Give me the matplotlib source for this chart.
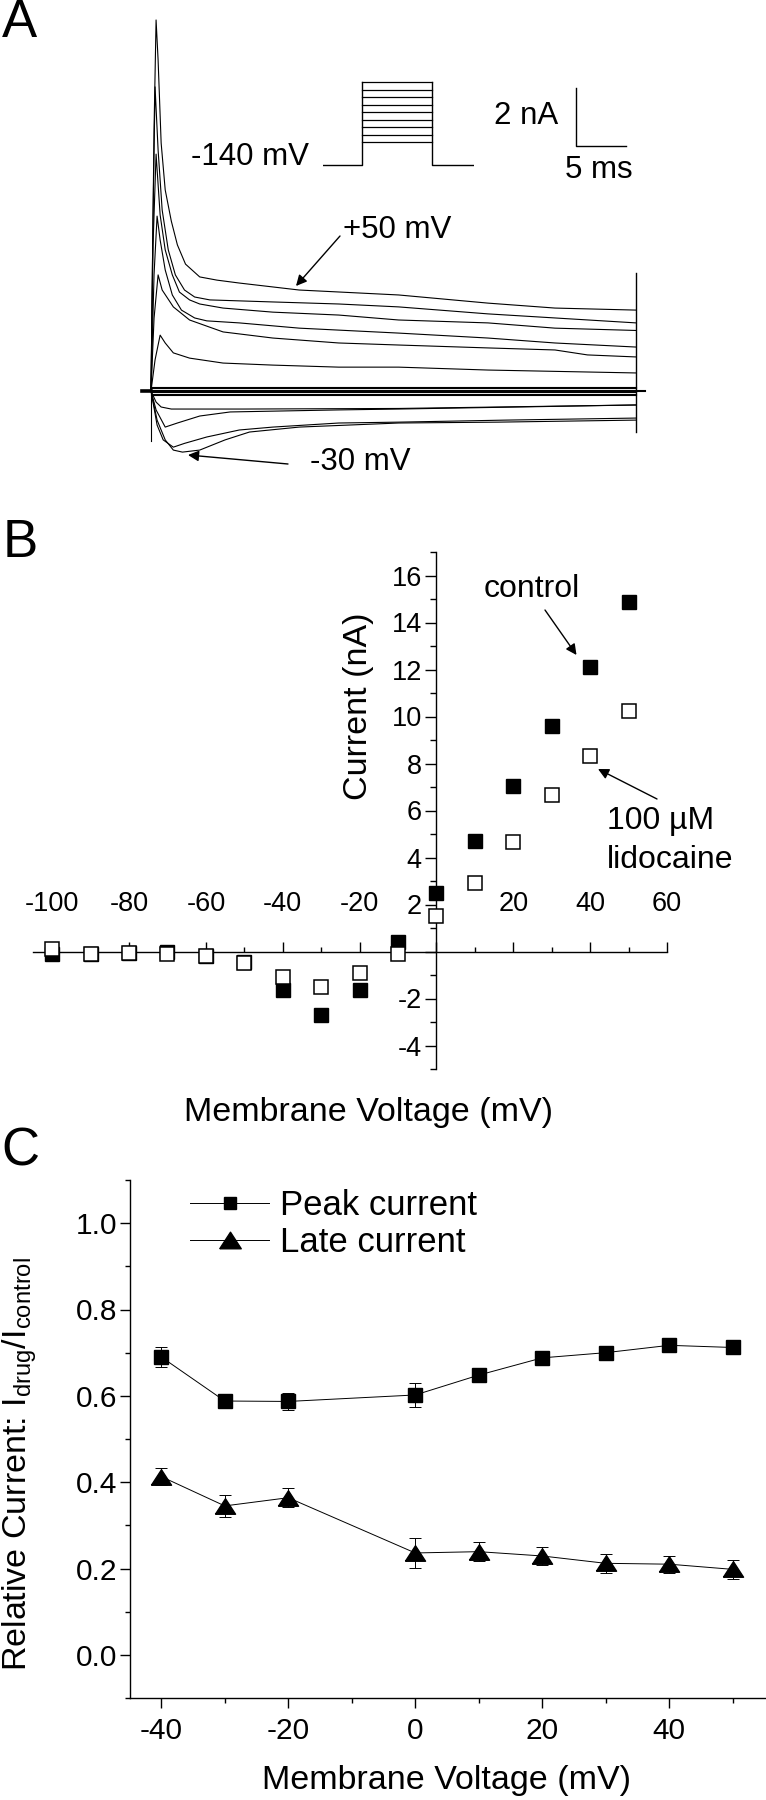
import matplotlib
matplotlib.use('Agg')
import matplotlib.pyplot as plt
from matplotlib.lines import Line2D
from matplotlib.patches import FancyArrowPatch

plt.rcParams['font.family'] = ['Liberation Sans', 'DejaVu Sans']
plt.rcParams['mathtext.default'] = 'regular'

W, H, DPI = 766, 1800, 100
fig = plt.figure(figsize=(W / DPI, H / DPI), dpi=DPI)


def box(x0, y0, x1, y1):
    return [x0 / W, 1 - y1 / H, (x1 - x0) / W, (y1 - y0) / H]


def fx(px):
    return px / W


def fy(py):
    return 1 - py / H


def fp(px, py):
    return (px, H - py)


# ---------------- Panel A data: current traces (time in ms, current in nA) ----------------
tr_p50_t = [0, 0.3, 0.5, 0.7, 1.0, 1.4, 2.0, 2.6, 3.4, 4.8, 6.5, 8.7, 14.6, 24.4, 33.2, 39.8, 47.8]
tr_p50_i = [0, 9.0, 12.75, 11.37, 8.52, 6.91, 5.84, 5.02, 4.36, 3.92, 3.81, 3.71, 3.47, 3.30, 3.02, 2.85, 2.78]
tr_p40_t = [0, 0.2, 0.4, 0.7, 1.1, 1.7, 2.4, 3.3, 4.3, 5.8, 12.0, 18.5, 24.4, 33.2, 39.8, 47.8]
tr_p40_i = [0, 6.0, 10.45, 8.28, 6.22, 4.85, 3.99, 3.47, 3.23, 3.13, 3.06, 2.99, 2.89, 2.65, 2.51, 2.34]
tr_p30_t = [0, 0.2, 0.5, 0.9, 1.4, 2.1, 2.8, 3.8, 4.8, 7.1, 12.0, 18.5, 24.4, 33.2, 39.8, 47.8]
tr_p30_i = [0, 5.0, 8.14, 6.05, 4.85, 3.99, 3.40, 3.13, 2.99, 2.85, 2.71, 2.61, 2.44, 2.34, 2.16, 2.08]
tr_p20_t = [0, 0.3, 0.6, 0.9, 1.4, 2.1, 3.0, 4.3, 5.5, 8.7, 14.6, 24.4, 33.2, 39.8, 47.8]
tr_p20_i = [0, 4.0, 6.01, 5.19, 4.16, 3.30, 2.78, 2.51, 2.41, 2.34, 2.16, 1.99, 1.82, 1.65, 1.51]
tr_p10_t = [0, 0.3, 0.7, 1.1, 2.2, 3.8, 7.1, 12.0, 18.5, 24.4, 33.2, 39.8, 43.0, 47.8]
tr_p10_i = [0, 2.5, 3.99, 3.47, 2.89, 2.44, 2.03, 1.82, 1.65, 1.58, 1.48, 1.41, 1.24, 1.17]
tr_0_t = [0, 0.4, 0.9, 1.4, 2.2, 3.8, 7.1, 12.0, 18.5, 24.4, 33.2, 47.8]
tr_0_i = [0, 1.07, 1.92, 1.65, 1.31, 1.13, 0.96, 0.89, 0.82, 0.82, 0.72, 0.62]
tr_m10_t = [0, 0.5, 1.0, 2.0, 9.1, 24.4, 47.8]
tr_m10_i = [0, -0.38, -0.55, -0.62, -0.62, -0.60, -0.48]
tr_m20_t = [0, 0.5, 1.4, 2.6, 4.8, 7.8, 18.5, 24.4, 47.8]
tr_m20_i = [0, -0.65, -1.24, -1.10, -0.86, -0.72, -0.65, -0.62, -0.48]
tr_m40_t = [0, 0.6, 1.2, 2.2, 3.3, 5.5, 8.7, 12.0, 18.5, 24.4, 35.0, 47.8]
tr_m40_i = [0, -1.17, -1.68, -1.93, -1.80, -1.58, -1.34, -1.24, -1.10, -1.07, -1.00, -0.93]
tr_m30_t = [0, 0.6, 1.4, 2.2, 3.1, 4.8, 7.3, 9.7, 14.6, 24.4, 34.2, 47.8]
tr_m30_i = [0, -1.00, -1.68, -2.03, -2.10, -2.03, -1.68, -1.41, -1.24, -1.10, -1.07, -1.00]
# traces that stay near zero current (hyperpolarised steps)
flat_t = [0, 47.8]
flat_levels = [0.15, 0.10, 0.05, 0.0, -0.04, -0.09, -0.14]
# holding current before/after the step and capacitive artefacts
pre_t = [-0.9, 0.0]
post_t = [47.8, 48.7]
onset_art_i = [-1.72, 0.0]
offset_art_i = [4.05, -1.41]
step_end_t = 47.8
# scale bar
scale_ms = 5
scale_nA = 2
# protocol inset (schematic): step levels in mV
protocol_steps = [-30, -20, -10, 0, 10, 20, 30, 40, 50]
protocol_hold_label = '-140 mV'

# ---------------- Panel B data: I-V relation ----------------
volt_B = [-100, -90, -80, -70, -60, -50, -40, -30, -20, -10, 0, 10, 20, 30, 40, 50]
ctrl_B = [-0.12, -0.10, -0.05, -0.03, -0.20, -0.45, -1.64, -2.70, -1.64, 0.41, 2.49, 4.71, 7.04, 9.58, 12.12, 14.89]
lido_B = [0.10, -0.10, -0.05, -0.12, -0.20, -0.47, -1.10, -1.49, -0.93, -0.12, 1.50, 2.92, 4.67, 6.65, 8.32, 10.22]
xt_B = [-100, -80, -60, -40, -20, 0, 20, 40, 60]
xt_B_lab = ['-100', '-80', '-60', '-40', '-20', '', '20', '40', '60']
yt_B = [-4, -2, 0, 2, 4, 6, 8, 10, 12, 14, 16]
yt_B_lab = ['-4', '-2', '', '2', '4', '6', '8', '10', '12', '14', '16']

# ---------------- Panel C data: relative current ----------------
volt_C = [-40, -30, -20, 0, 10, 20, 30, 40, 50]
peak_C = [0.690, 0.588, 0.587, 0.602, 0.648, 0.688, 0.700, 0.717, 0.712]
peak_err = [0.024, 0.008, 0.020, 0.027, 0.010, 0.010, 0.010, 0.010, 0.010]
late_C = [0.413, 0.345, 0.364, 0.236, 0.239, 0.229, 0.212, 0.210, 0.198]
late_err = [0.020, 0.025, 0.022, 0.034, 0.022, 0.020, 0.022, 0.020, 0.022]
xt_C = [-40, -20, 0, 20, 40]
yt_C = [0.0, 0.2, 0.4, 0.6, 0.8, 1.0]

# wide, flat triangle marker as in the original
TRI = [(-1.0, -0.77), (1.0, -0.77), (0.0, 0.77), (-1.0, -0.77)]

# ============================ Panel A ============================
axA = fig.add_axes(box(130, 0, 660, 480))
axA.set_xlim((130 - 151) / 10.15, (660 - 151) / 10.15)
axA.set_ylim((391 - 480) / 29.1, 391 / 29.1)
axA.axis('off')
lw_tr = 0.8
traces = [(tr_p50_t, tr_p50_i), (tr_p40_t, tr_p40_i), (tr_p30_t, tr_p30_i),
          (tr_p20_t, tr_p20_i), (tr_p10_t, tr_p10_i), (tr_0_t, tr_0_i),
          (tr_m10_t, tr_m10_i), (tr_m20_t, tr_m20_i), (tr_m40_t, tr_m40_i),
          (tr_m30_t, tr_m30_i)]
for t, i in traces:
    axA.plot(t, i, color='black', lw=lw_tr)
for lv in flat_levels:
    axA.plot(flat_t, [lv, lv], color='black', lw=lw_tr)
axA.plot(pre_t, [0, 0], color='black', lw=2.6)
axA.plot(post_t, [0, 0], color='black', lw=1.5)
axA.plot([0, 0], onset_art_i, color='black', lw=lw_tr)
axA.plot([step_end_t, step_end_t], offset_art_i, color='black', lw=1.0)
# scale bar
sb_t0, sb_i0 = (575.5 - 151) / 10.15, (391 - 145.7) / 29.1
axA.plot([sb_t0, sb_t0, sb_t0 + scale_ms], [sb_i0 + scale_nA, sb_i0, sb_i0], color='black', lw=1.0)

# protocol inset
axP = fig.add_axes(box(323, 80, 474, 170))
axP.axis('off')
axP.set_xlim(0, 151)
axP.set_ylim(-66.7, 53.3)
hold_disp = -60
pulse_on, pulse_off = 39, 109
axP.plot([0, pulse_on, pulse_on], [hold_disp, hold_disp, max(protocol_steps)], color='black', lw=1.0)
axP.plot([pulse_off, pulse_off, 151], [max(protocol_steps), hold_disp, hold_disp], color='black', lw=1.0)
for lv in protocol_steps:
    axP.plot([pulse_on, pulse_off], [lv, lv], color='black', lw=0.9)

fsA = 22.5
fig.text(fx(250), fy(157), protocol_hold_label, ha='center', va='center', fontsize=fsA)
fig.text(fx(526), fy(116), '%d nA' % scale_nA, ha='center', va='center', fontsize=fsA)
fig.text(fx(599), fy(170), '%d ms' % scale_ms, ha='center', va='center', fontsize=fsA)
fig.text(fx(397), fy(230), '+50 mV', ha='center', va='center', fontsize=fsA)
fig.text(fx(360), fy(462), '-30 mV', ha='center', va='center', fontsize=fsA)
arw = dict(arrowstyle='-|>', color='black', lw=1.0, mutation_scale=16, shrinkA=0, shrinkB=0)
fig.add_artist(FancyArrowPatch(fp(340, 236), fp(296, 286), transform=None, **arw))
fig.add_artist(FancyArrowPatch(fp(288, 464), fp(188, 455), transform=None, **arw))

# panel letters
fsL = 38
fig.text(fx(2), fy(23), 'A', ha='left', va='center', fontsize=fsL)
fig.text(fx(3), fy(543), 'B', ha='left', va='center', fontsize=fsL)
fig.text(fx(1), fy(1152), 'C', ha='left', va='center', fontsize=fsL)

# ============================ Panel B ============================
axB = fig.add_axes(box(33, 552, 667, 1069))
axB.set_xlim(-105, 60)
axB.set_ylim(-5, 17)
axB.patch.set_alpha(0)
for s in ['bottom', 'right']:
    axB.spines[s].set_visible(False)
axB.spines['left'].set_position(('data', 0))
axB.spines['top'].set_position(('data', 0))
for s in ['left', 'top']:
    axB.spines[s].set_linewidth(1.0)
axB.xaxis.set_ticks_position('top')
axB.yaxis.set_ticks_position('left')
axB.set_xticks(xt_B)
axB.set_xticklabels(xt_B_lab)
axB.set_xticks([-90, -70, -50, -30, -10, 10, 30, 50], minor=True)
axB.set_yticks(yt_B)
axB.set_yticklabels(yt_B_lab)
axB.set_yticks([-5, -3, -1, 1, 3, 5, 7, 9, 11, 13, 15, 17], minor=True)
axB.tick_params(axis='x', which='major', direction='out', length=7.5, width=1.0, pad=17, labelsize=19.5)
axB.tick_params(axis='x', which='minor', direction='out', length=3.5, width=1.0)
axB.tick_params(axis='y', which='major', direction='out', length=8, width=1.0, pad=2.5, labelsize=19.5)
axB.tick_params(axis='y', which='minor', direction='out', length=4, width=1.0)
axB.plot(volt_B, ctrl_B, 's', color='black', ms=10.5, mec='black', mew=1.0, clip_on=False, zorder=3)
axB.plot(volt_B, lido_B, 's', mfc='white', mec='black', ms=10.5, mew=1.1, clip_on=False, zorder=4)

fsB = 23
fig.text(fx(359), fy(706), 'Current (nA)', rotation=90, ha='center', va='center', fontsize=24.5)
fig.text(fx(369), fy(1112), 'Membrane Voltage (mV)', ha='center', va='center', fontsize=24.5)
fig.text(fx(532), fy(589), 'control', ha='center', va='center', fontsize=fsB)
fig.text(fx(661), fy(821), '100 \u00b5M', ha='center', va='center', fontsize=fsB)
fig.text(fx(670), fy(860), 'lidocaine', ha='center', va='center', fontsize=fsB)
fig.add_artist(FancyArrowPatch(fp(545, 610), fp(576.5, 655), transform=None, **arw))
fig.add_artist(FancyArrowPatch(fp(657, 799), fp(598, 769), transform=None, **arw))

# ============================ Panel C ============================
axC = fig.add_axes(box(129.5, 1180, 764.5, 1698))
axC.set_xlim(-45, 55)
axC.set_ylim(-0.1, 1.1)
axC.patch.set_alpha(0)
for s in ['top', 'right']:
    axC.spines[s].set_visible(False)
for s in ['left', 'bottom']:
    axC.spines[s].set_linewidth(1.0)
axC.set_xticks(xt_C)
axC.set_xticklabels(['%d' % v for v in xt_C])
axC.set_xticks([-30, -10, 10, 30, 50], minor=True)
axC.set_yticks(yt_C)
axC.set_yticklabels(['%.1f' % v for v in yt_C])
axC.set_yticks([-0.1, 0.1, 0.3, 0.5, 0.7, 0.9, 1.1], minor=True)
axC.tick_params(which='major', direction='out', length=7, width=1.0, labelsize=21.5)
axC.tick_params(which='minor', direction='out', length=3.5, width=1.0)
axC.tick_params(axis='x', pad=7)
axC.tick_params(axis='y', pad=1.5)

axC.errorbar(volt_C, peak_C, yerr=peak_err, fmt='none', ecolor='black', elinewidth=0.7, capsize=4.5, capthick=0.7)
axC.errorbar(volt_C, late_C, yerr=late_err, fmt='none', ecolor='black', elinewidth=0.7, capsize=4.5, capthick=0.7)
axC.plot(volt_C, peak_C, '-', color='black', lw=0.7, marker='s', ms=10.5, mfc='black', mec='black', zorder=3)
axC.plot(volt_C, late_C, '-', color='black', lw=0.7, marker=TRI, ms=14.5, mfc='black', mec='black', zorder=3)

h1 = Line2D([], [], color='black', lw=0.7, marker='s', ms=8.7)
h2 = Line2D([], [], color='black', lw=0.7, marker=TRI, ms=15.5)
fig.legend([h1, h2], ['Peak current', 'Late current'], loc='upper left',
           bbox_to_anchor=(fx(190), fy(1189)), bbox_transform=fig.transFigure,
           frameon=False, fontsize=25, handlelength=2.28, handletextpad=0.3,
           borderpad=0, borderaxespad=0, labelspacing=0.12, numpoints=1)

fig.text(fx(20), fy(1464), 'Relative Current: I$_{drug}$/I$_{control}$', rotation=90,
         ha='center', va='center', fontsize=24.5)
fig.text(fx(446), fy(1781), 'Membrane Voltage (mV)', ha='center', va='center', fontsize=24.5)

fig.savefig('out.png', dpi=DPI)
